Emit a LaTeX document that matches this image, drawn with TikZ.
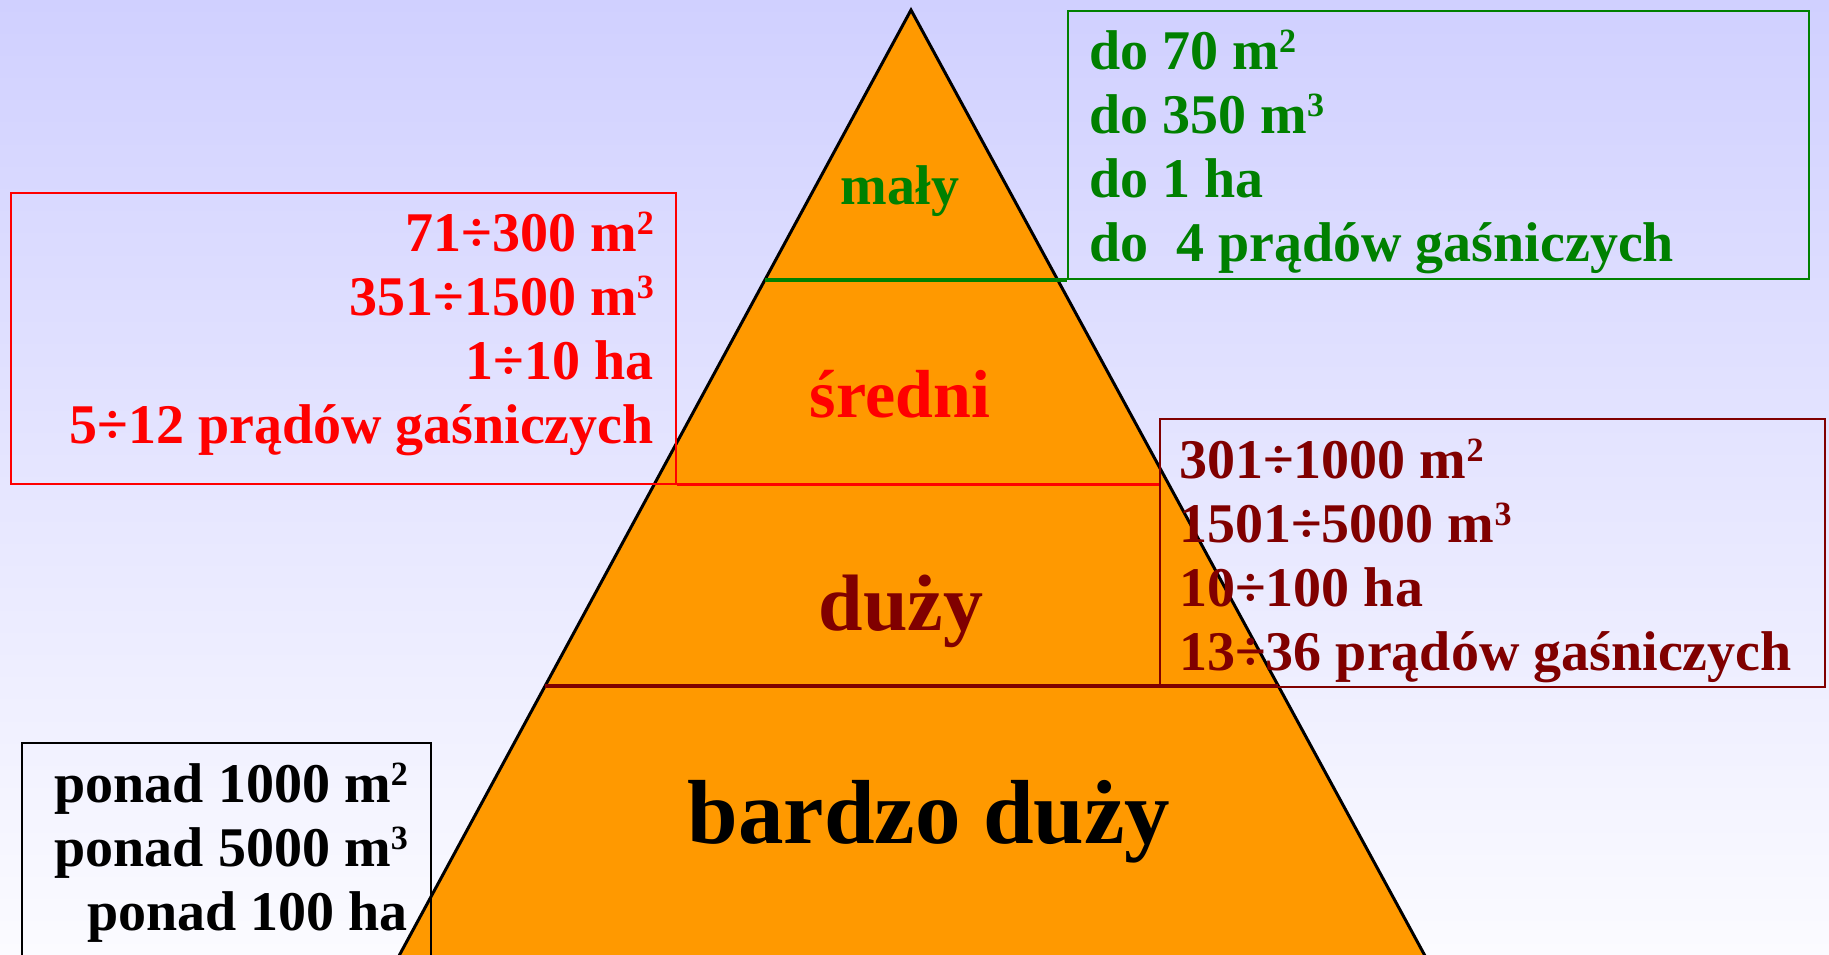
\documentclass[tikz,border=0pt]{standalone}
\usepackage{fontspec}
\setmainfont{Liberation Serif}
\usetikzlibrary{calc}

\definecolor{bgtop}{RGB}{208,208,255}
\definecolor{bgbottom}{RGB}{251,251,255}
\definecolor{fireorange}{RGB}{255,153,0}
\definecolor{smallgreen}{RGB}{0,128,0}
\definecolor{midred}{RGB}{255,0,0}
\definecolor{bigred}{RGB}{128,0,0}
\newcommand{\upidx}[1]{\raisebox{0.29em}{\fontsize{34}{34}\selectfont #1}}

\begin{document}
\begin{tikzpicture}[x=1pt, y=-1pt,
	box/.style={draw, line width=1.8pt, anchor=north west, inner sep=0},
	boxtext/.style={inner sep=0, font=\bfseries\fontsize{56}{64}\selectfont},
	tier/.style={inner sep=0, anchor=base, font=\bfseries\fontsize{#1}{#1}\selectfont},
	divider/.style={line width=3.2pt}]
	\useasboundingbox (0,0) rectangle (1829,954);
	\clip (0,0) rectangle (1829,954);
	\shade[top color=bgtop, bottom color=bgbottom] (0,0) rectangle (1829,954);

	% pyramid
	\coordinate (apex) at (911,10);
	\coordinate (bl) at (400,954);
	\coordinate (br) at (1424,954);
	\draw[fill=fireorange, line width=3pt] ($(apex)!1.05!(bl)$) -- (apex) -- ($(apex)!1.05!(br)$) -- cycle;

	% frames
	\node[box, smallgreen, minimum width=741pt, minimum height=268pt] (gbox) at (1067,10) {};
	\node[box, midred, minimum width=665pt, minimum height=291pt] (rbox) at (10,192) {};
	\node[box, bigred, minimum width=665pt, minimum height=268pt] (bbox) at (1159,418) {};
	\node[box, black, minimum width=409pt, minimum height=300pt] (kbox) at (21,742) {};

	% level lines
	\coordinate (gl) at ($(apex)!0.286!(bl)$);
	\draw[divider, smallgreen] (gl) -- (gl -| gbox.west);
	\draw[divider, midred] (rbox.south east) -- (rbox.south east -| bbox.west);
	\coordinate (dl) at ($(apex)!0.716!(bl)$);
	\coordinate (dr) at ($(apex)!0.716!(br)$);
	\draw[divider, bigred] (dl) -- (dr);

	% level names
	\node[tier=56, smallgreen] (maly) at (900,204) {mały};
	\node[tier=68, midred] (sredni) at (900,417) {średni};
	\node[tier=80, bigred] (duzy) at (901,630) {duży};
	\node[tier=91] (bardzo) at (929,843) {bardzo duży};

	% limits
	\foreach \txt [count=\i] in {do 70 m\upidx{2}, do 350 m\upidx{3}, do 1 ha, do~~4 prądów gaśniczych}
		\node[boxtext, anchor=base west, smallgreen] (g\i) at (1089, 5+64*\i) {\txt};
	\foreach \txt [count=\i] in {71÷300 m\upidx{2}, 351÷1500 m\upidx{3}, 1÷10 ha, 5÷12 prądów gaśniczych}
		\node[boxtext, anchor=base east, midred] (r\i) at (654, 187+64*\i) {\txt};
	\foreach \txt [count=\i] in {301÷1000 m\upidx{2}, 1501÷5000 m\upidx{3}, 10÷100 ha, 13÷36 prądów gaśniczych}
		\node[boxtext, anchor=base west, bigred] (b\i) at (1179, 414+64*\i) {\txt};
	\foreach \txt [count=\i] in {ponad 1000 m\upidx{2}, ponad 5000 m\upidx{3}, ponad 100 ha}
		\node[boxtext, anchor=base east] (k\i) at (408, 738+64*\i) {\txt};
\end{tikzpicture}
\end{document}
